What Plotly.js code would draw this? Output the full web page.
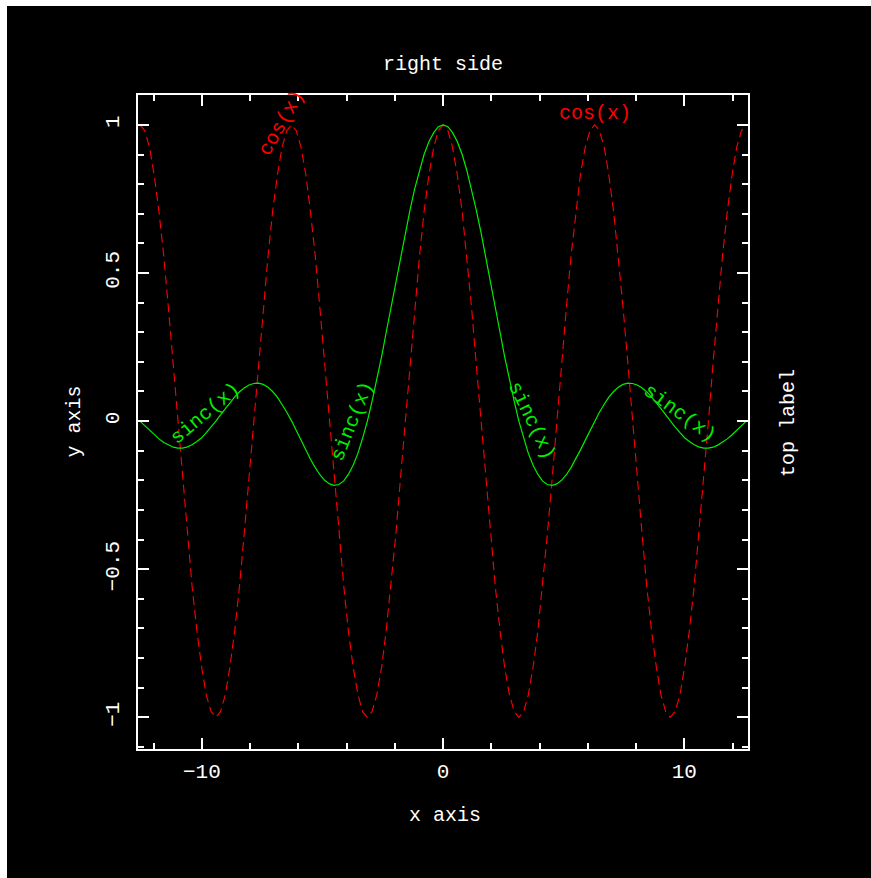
<!DOCTYPE html>
<html>
<head>
<meta charset="utf-8">
<script src="https://cdn.plot.ly/plotly-3.0.1.min.js"></script>
<style>
html,body{margin:0;padding:0;background:#ffffff;}
#plot{position:absolute;left:7px;top:6px;width:864px;height:872px;}
</style>
</head>
<body>
<div id="plot"></div>
<script>
// sample positions (x)
var xs = [-12.57,-12.37,-12.17,-11.98,-11.78,-11.58,-11.39,-11.19,-11.00,-10.80,-10.60,-10.41,-10.21,-10.01,-9.82,-9.62,
  -9.42,-9.23,-9.03,-8.84,-8.64,-8.44,-8.25,-8.05,-7.85,-7.66,-7.46,-7.26,-7.07,-6.87,-6.68,-6.48,
  -6.28,-6.09,-5.89,-5.69,-5.50,-5.30,-5.11,-4.91,-4.71,-4.52,-4.32,-4.12,-3.93,-3.73,-3.53,-3.34,
  -3.14,-2.95,-2.75,-2.55,-2.36,-2.16,-1.96,-1.77,-1.57,-1.37,-1.18,-0.98,-0.79,-0.59,-0.39,-0.20,
  0,
  0.20,0.39,0.59,0.79,0.98,1.18,1.37,1.57,1.77,1.96,2.16,2.36,2.55,2.75,2.95,3.14,
  3.34,3.53,3.73,3.93,4.12,4.32,4.52,4.71,4.91,5.11,5.30,5.50,5.69,5.89,6.09,6.28,
  6.48,6.68,6.87,7.07,7.26,7.46,7.66,7.85,8.05,8.25,8.44,8.64,8.84,9.03,9.23,9.42,
  9.62,9.82,10.01,10.21,10.41,10.60,10.80,11.00,11.19,11.39,11.58,11.78,11.98,12.17,12.37,12.57];

// red dashed curve: cos(x)
var cosVals = [1,0.981,0.924,0.831,0.707,0.556,0.383,0.195,0,-0.195,-0.383,-0.556,-0.707,-0.831,-0.924,-0.981,
  -1,-0.981,-0.924,-0.831,-0.707,-0.556,-0.383,-0.195,0,0.195,0.383,0.556,0.707,0.831,0.924,0.981,
  1,0.981,0.924,0.831,0.707,0.556,0.383,0.195,0,-0.195,-0.383,-0.556,-0.707,-0.831,-0.924,-0.981,
  -1,-0.981,-0.924,-0.831,-0.707,-0.556,-0.383,-0.195,0,0.195,0.383,0.556,0.707,0.831,0.924,0.981,
  1,
  0.981,0.924,0.831,0.707,0.556,0.383,0.195,0,-0.195,-0.383,-0.556,-0.707,-0.831,-0.924,-0.981,-1,
  -0.981,-0.924,-0.831,-0.707,-0.556,-0.383,-0.195,0,0.195,0.383,0.556,0.707,0.831,0.924,0.981,1,
  0.981,0.924,0.831,0.707,0.556,0.383,0.195,0,-0.195,-0.383,-0.556,-0.707,-0.831,-0.924,-0.981,-1,
  -0.981,-0.924,-0.831,-0.707,-0.556,-0.383,-0.195,0,0.195,0.383,0.556,0.707,0.831,0.924,0.981,1];

// green solid curve: sinc(x)
var sincVals = [0,-0.016,-0.031,-0.046,-0.060,-0.072,-0.081,-0.088,-0.091,-0.091,-0.087,-0.080,-0.069,-0.056,-0.039,-0.020,
  0,0.021,0.042,0.063,0.082,0.099,0.112,0.122,0.127,0.128,0.124,0.114,0.100,0.081,0.057,0.030,
  0,-0.032,-0.065,-0.098,-0.129,-0.157,-0.181,-0.200,-0.212,-0.217,-0.214,-0.202,-0.180,-0.149,-0.108,-0.058,
  0,0.066,0.139,0.218,0.300,0.385,0.471,0.555,0.637,0.714,0.784,0.847,0.900,0.943,0.974,0.994,
  1,
  0.994,0.974,0.943,0.900,0.847,0.784,0.714,0.637,0.555,0.471,0.385,0.300,0.218,0.139,0.066,0,
  -0.058,-0.108,-0.149,-0.180,-0.202,-0.214,-0.217,-0.212,-0.200,-0.181,-0.157,-0.129,-0.098,-0.065,-0.032,0,
  0.030,0.057,0.081,0.100,0.114,0.124,0.128,0.127,0.122,0.112,0.099,0.082,0.063,0.042,0.021,0,
  -0.020,-0.039,-0.056,-0.069,-0.080,-0.087,-0.091,-0.091,-0.088,-0.081,-0.072,-0.060,-0.046,-0.031,-0.016,0];

var titleText = "right side";
var xTitle = "x axis";
var yTitle = "y axis";
var sideLabel = "top label";
var cosLabel = "cos(x)";
var sincLabel = "sinc(x)";

var FONT = "Liberation Mono, DejaVu Sans Mono, monospace";
var RED = "#ff0000", GREEN = "#00ee00";

var traces = [
  {x: xs, y: cosVals, type: "scatter", mode: "lines",
   line: {color: RED, width: 1.1, dash: "9px,5px"}, hoverinfo: "skip"},
  {x: xs, y: sincVals, type: "scatter", mode: "lines",
   line: {color: GREEN, width: 1.2}, hoverinfo: "skip"}
];

function curveLabel(text, x, y, ang, color) {
  return {text: text, x: x, y: y, xref: "x", yref: "y", showarrow: false,
    textangle: ang, xanchor: "center", yanchor: "middle",
    font: {family: FONT, size: 20, color: color}};
}
function paperLabel(text, x, y, ang) {
  return {text: text, x: x, y: y, xref: "paper", yref: "paper", showarrow: false,
    textangle: ang, xanchor: "center", yanchor: "middle",
    font: {family: FONT, size: 20, color: "#ffffff"}};
}

var layout = {
  width: 864, height: 872,
  paper_bgcolor: "#000000", plot_bgcolor: "#000000",
  showlegend: false,
  margin: {l: 130.5, r: 122.5, t: 88.5, b: 128.5, pad: 0},
  xaxis: {
    range: [-12.65, 12.64], showgrid: false, zeroline: false,
    showline: true, linecolor: "#ffffff", linewidth: 2, mirror: "ticks",
    ticks: "inside", ticklen: 11, tickwidth: 2, tickcolor: "#ffffff",
    tick0: 0, dtick: 10, ticklabelstandoff: 2,
    minor: {ticks: "inside", ticklen: 6, tickwidth: 2, tickcolor: "#ffffff", dtick: 2, tick0: 0, showgrid: false},
    tickfont: {family: FONT, size: 21, color: "#ffffff"}
  },
  yaxis: {
    range: [-1.107, 1.101], showgrid: false, zeroline: false,
    showline: true, linecolor: "#ffffff", linewidth: 2, mirror: "ticks",
    ticks: "inside", ticklen: 11, tickwidth: 2, tickcolor: "#ffffff",
    tick0: 0, dtick: 0.5, tickangle: -90, ticklabelstandoff: 9,
    minor: {ticks: "inside", ticklen: 6, tickwidth: 2, tickcolor: "#ffffff", dtick: 0.1, tick0: 0, showgrid: false},
    tickfont: {family: FONT, size: 21, color: "#ffffff"}
  },
  annotations: [
    paperLabel(titleText, 0.5, 1.0466, 0),
    paperLabel(xTitle, 0.503, -0.1015, 0),
    paperLabel(yTitle, -0.1047, 0.5008, -90),
    paperLabel(sideLabel, 1.0663, 0.499, -90),
    curveLabel(cosLabel, -6.67, 1.007, -60, RED),
    curveLabel(cosLabel, 6.28, 1.038, 0, RED),
    curveLabel(sincLabel, -9.86, 0.027, -40, GREEN),
    curveLabel(sincLabel, -3.78, 0.0, -68, GREEN),
    curveLabel(sincLabel, 3.67, 0.003, 64, GREEN),
    curveLabel(sincLabel, 9.83, 0.027, 36, GREEN)
  ]
};

Plotly.newPlot("plot", traces, layout, {displayModeBar: false, staticPlot: true});
</script>
</body>
</html>
